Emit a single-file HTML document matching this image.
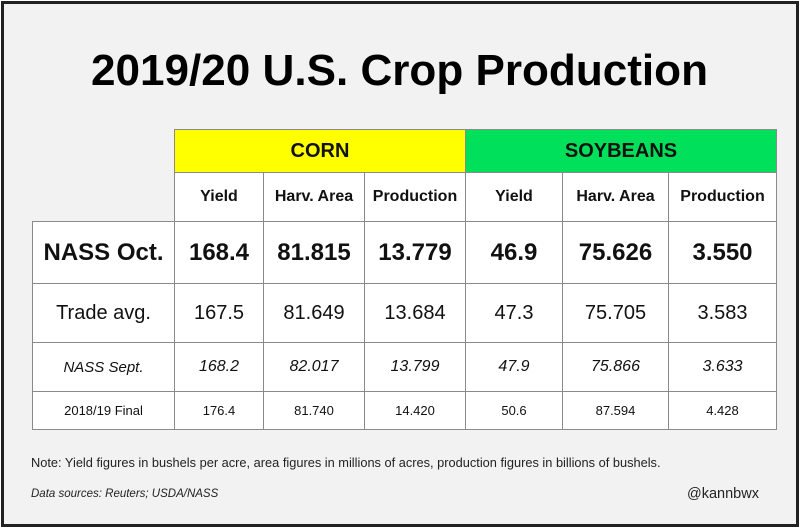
<!DOCTYPE html>
<html><head><meta charset="utf-8">
<style>
body{margin:0;width:800px;height:528px;background:#fff;font-family:"Liberation Sans",Arial,sans-serif;position:relative;overflow:hidden}
#frame{position:absolute;left:1px;top:1px;width:792px;height:520px;border:3px solid #222;background:#f2f2f2}
.c{position:absolute;box-sizing:border-box;border:1px solid #8a8a8a;display:flex;align-items:center;justify-content:center;background:#fff;color:#111;white-space:nowrap}
.t{position:absolute;color:#222;white-space:nowrap}
</style></head><body>
<div id="frame"></div>
<svg style="position:absolute;left:0;top:0" width="800" height="130">
<text x="91" y="85" textLength="617" lengthAdjust="spacingAndGlyphs" font-family="Liberation Sans, Arial, sans-serif" font-weight="bold" font-size="44" fill="#000">2019/20 U.S. Crop Production</text>
</svg>
<div id="tbl"></div>
<div class="t" style="left:31px;top:455px;font-size:12.8px">Note: Yield figures in bushels per acre, area figures in millions of acres, production figures in billions of bushels.</div>
<div class="t" style="left:31px;top:488px;font-size:11.5px;font-style:italic">Data sources: Reuters; USDA/NASS</div>
<div class="t" style="left:687px;top:486px;font-size:14.5px">@kannbwx</div>
<script>
const colX=[32,174,263,364,465,562,668,776];
const rowY=[221,283,342,391,429];
const crops=["CORN","SOYBEANS"];
const cropColors=["#ffff00","#00e05a"];
const subHeads=["Yield","Harv. Area","Production","Yield","Harv. Area","Production"];
const rowLabels=["NASS Oct.","Trade avg.","NASS Sept.","2018/19 Final"];
const rowValues=[
 ["168.4","81.815","13.779","46.9","75.626","3.550"],
 ["167.5","81.649","13.684","47.3","75.705","3.583"],
 ["168.2","82.017","13.799","47.9","75.866","3.633"],
 ["176.4","81.740","14.420","50.6","87.594","4.428"]];
const rowStyles=[
 {fs:24,fw:"bold",st:"normal",lfs:24},
 {fs:20,fw:"normal",st:"normal",lfs:20},
 {fs:16,fw:"normal",st:"italic",lfs:15},
 {fs:13,fw:"normal",st:"normal",lfs:13}];
const tbl=document.getElementById('tbl');
function cell(x,y,w,h,txt,css,name){
 const d=document.createElement('div');
 d.className='c';
 d.style.cssText+=`left:${x}px;top:${y}px;width:${w+1}px;height:${h+1}px;`+css;
 d.textContent=txt;
 
 
 tbl.appendChild(d);
}
crops.forEach((c,i)=>{
 const x0=colX[1+i*3],x1=colX[4+i*3];
 cell(x0,129,x1-x0,43,c,`background:${cropColors[i]};font-weight:bold;font-size:20px;`,'crop-header-'+c.toLowerCase());
});
subHeads.forEach((s,i)=>{
 cell(colX[i+1],172,colX[i+2]-colX[i+1],rowY[0]-172,s,'font-weight:bold;font-size:16px;','subheader-'+i);
});
rowLabels.forEach((l,r)=>{
 const st=rowStyles[r],y=rowY[r],h=rowY[r+1]-rowY[r];
 cell(colX[0],y,colX[1]-colX[0],h,l,`font-weight:${st.fw};font-style:${st.st};font-size:${st.lfs}px;`,'row-label-'+r);
 rowValues[r].forEach((v,i)=>{
  cell(colX[i+1],y,colX[i+2]-colX[i+1],h,v,`font-weight:${st.fw};font-style:${st.st};font-size:${st.fs}px;`,'value-r'+r+'-c'+i);
 });
});
</script>
</body></html>
